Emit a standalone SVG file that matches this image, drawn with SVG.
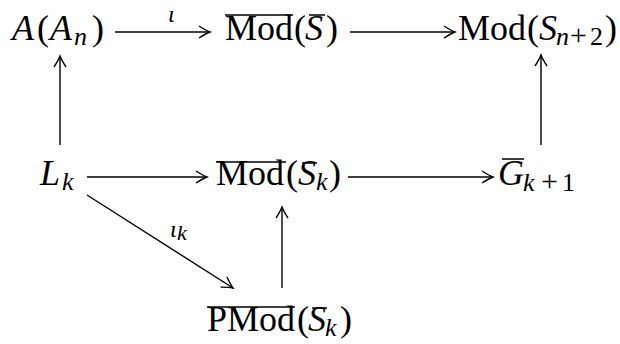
<svg xmlns="http://www.w3.org/2000/svg" width="620" height="344" viewBox="0 0 620 344">
<defs>
<style>
text{font-family:'Liberation Serif','Times New Roman',serif;fill:#000}
.t{font-size:36px}
.i{font-style:italic}
.s{font-size:26px}
.p{font-size:30px}
.lab{font-size:24px;font-style:italic}
.c line{stroke:#000;stroke-width:1.4;fill:none}
.bar{stroke:#000;stroke-width:1.5}
</style>
<marker id="ar" markerUnits="userSpaceOnUse" viewBox="-13 -7 15 14" refX="0" refY="0" markerWidth="15" markerHeight="14" orient="auto">
<path d="M-11,-6 Q-4,-1.5 0,0 Q-4,1.5 -11,6" fill="none" stroke="#000" stroke-width="1.4"/>
</marker>
</defs>
<rect width="620" height="344" fill="#fff"/>
<g id="n-AAn"><text class="t" y="40"><tspan class="i" x="12">A</tspan><tspan x="37">(</tspan><tspan class="i" x="50">A</tspan><tspan class="i s" x="74" dy="5">n</tspan><tspan x="92" dy="-5">)</tspan></text></g>
<g id="n-ModS"><text class="t" y="40"><tspan x="225">Mod</tspan><tspan x="294">(</tspan><tspan class="i" x="305">S</tspan><tspan x="326">)</tspan></text><line class="bar" x1="225" y1="15" x2="293" y2="15"/><line class="bar" x1="309" y1="15" x2="325" y2="15"/></g>
<g id="n-ModSn2"><text class="t" y="40"><tspan x="458">Mod</tspan><tspan x="527">(</tspan><tspan class="i" x="539">S</tspan><tspan class="i s" x="556" dy="5">n</tspan><tspan class="p" x="570">+</tspan><tspan class="s" x="590">2</tspan><tspan x="605" dy="-5">)</tspan></text></g>
<g id="n-Lk"><text class="t" y="185"><tspan class="i" x="40">L</tspan><tspan class="i s" x="62" dy="5">k</tspan></text></g>
<g id="n-ModSk"><text class="t" y="185"><tspan x="216">Mod</tspan><tspan x="286">(</tspan><tspan class="i" x="298">S</tspan><tspan class="i s" x="316" dy="5">k</tspan><tspan x="329" dy="-5">)</tspan></text><line class="bar" x1="216" y1="162" x2="286" y2="162"/><line class="bar" x1="302" y1="163" x2="317" y2="163"/></g>
<g id="n-Gk1"><text class="t" y="185"><tspan class="i" x="498">G</tspan><tspan class="i s" x="523" dy="6">k</tspan><tspan class="p" x="541">+</tspan><tspan class="s" x="562">1</tspan></text><line class="bar" x1="502" y1="159" x2="524" y2="159"/></g>
<g id="n-PModSk"><text class="t" y="331"><tspan x="207">PMod</tspan><tspan x="297">(</tspan><tspan class="i" x="308">S</tspan><tspan class="i s" x="325" dy="5">k</tspan><tspan x="340" dy="-5">)</tspan></text><line class="bar" x1="207" y1="307" x2="295" y2="307"/><line class="bar" x1="312" y1="308" x2="327" y2="308"/></g>
<g id="connectors" class="c">
<line x1="115" y1="32" x2="210" y2="32" marker-end="url(#ar)"/>
<text class="lab" x="168" y="22">ι</text>
<line x1="350" y1="32" x2="455" y2="32" marker-end="url(#ar)"/>
<line x1="60" y1="145" x2="60" y2="56" marker-end="url(#ar)"/>
<line x1="541" y1="145" x2="541" y2="55" marker-end="url(#ar)"/>
<line x1="87" y1="177" x2="207" y2="177" marker-end="url(#ar)"/>
<line x1="348" y1="177" x2="493" y2="177" marker-end="url(#ar)"/>
<line x1="87" y1="195" x2="233" y2="288" marker-end="url(#ar)"/>
<text class="lab" x="170" y="237">ι<tspan font-size="22" x="177" dy="3">k</tspan></text>
<line x1="282" y1="288" x2="282" y2="207" marker-end="url(#ar)"/>
</g>
</svg>
